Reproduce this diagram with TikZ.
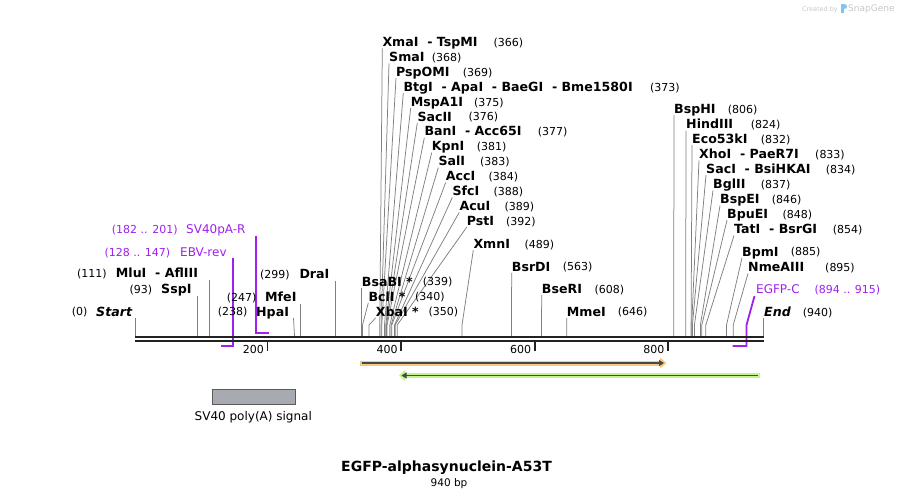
\documentclass[tikz,border=0pt]{standalone}
\usepackage{fontspec}
\setmainfont{DejaVu Sans}
\usetikzlibrary{arrows.meta}
\definecolor{sitegray}{RGB}{128,128,128}
\definecolor{prim}{RGB}{160,32,240}
\definecolor{bb}{RGB}{34,34,34}
\definecolor{orangef}{RGB}{249,200,122}
\definecolor{greenf}{RGB}{196,242,143}
\definecolor{darkl}{RGB}{72,72,72}
\definecolor{boxf}{RGB}{167,171,177}
\definecolor{boxd}{RGB}{90,90,90}
\definecolor{wm}{RGB}{200,200,200}
\definecolor{wmblue}{RGB}{130,195,240}
\begin{document}
\begin{tikzpicture}[x=1pt,y=-1pt,
  nm/.style={anchor=base west, inner sep=0, font=\fontsize{12.6}{14}\selectfont\bfseries},
  nmi/.style={anchor=base west, inner sep=0, font=\fontsize{12.6}{14}\selectfont\bfseries\itshape},
  nb/.style={anchor=base west, inner sep=0, font=\fontsize{11}{13}\selectfont},
  pn/.style={anchor=base west, inner sep=0, text=prim, font=\fontsize{12}{14}\selectfont},
  pb/.style={anchor=base west, inner sep=0, text=prim, font=\fontsize{11}{13}\selectfont},
  siteline/.style={draw=sitegray, line width=0.75pt},
  primline/.style={draw=prim, line width=1.8pt},
  backbone/.style={draw=bb, line width=2.4pt},
  tickmark/.style={draw=bb, line width=1.8pt},
  ticklab/.style={anchor=base east, inner sep=0, font=\fontsize{11}{13}\selectfont},
  featline/.style={draw=darkl, line width=1.6pt, -{Triangle[length=5pt,width=6pt]}},
]
\useasboundingbox (0,0) rectangle (899,499);
\fill[white] (0,0) rectangle (899,499);

% watermark
\node[anchor=base east, inner sep=0, text=wm, font=\fontsize{6.5}{8}\selectfont] (wm1) at (838,11) {Created by};
\fill[wmblue] (841,3.5) rectangle (844,13);
\fill[wmblue] (844,3.5) .. controls (848,3.5) and (848,9) .. (844,9) -- cycle;
\node[anchor=base west, inner sep=0, text=wm, font=\fontsize{9}{10}\selectfont] (wm2) at (848,11.5) {SnapGene};

% primers (drawn below the backbone)
\node[pn] (nEBV) at (180,256.5) {EBV-rev};
\node[pb] (cEBV) at (104.3,256.5) {(128 .. 147)};
\coordinate (tEBV) at (233,258);
\coordinate (mEBV) at (233,345.7);
\coordinate (eEBV) at (220.5,345.7);
\draw[primline] (tEBV) -- (mEBV) -- (eEBV);

\node[pn] (nSV) at (186,233.2) {SV40pA-R};
\node[pb] (cSV) at (111.7,233.2) {(182 .. 201)};
\coordinate (tSV) at (256,236);
\coordinate (mSV) at (256,332.7);
\coordinate (eSV) at (269.3,332.7);
\draw[primline] (tSV) -- (mSV) -- (eSV);

\node[pn] (nEG) at (756,293.2) {EGFP-C};
\node[pb] (cEG) at (814.3,293.2) {(894 .. 915)};
\coordinate (tEG) at (754.5,296);
\coordinate (kEG) at (746.5,325);
\coordinate (mEG) at (746.5,346);
\coordinate (eEG) at (732.5,346);
\draw[primline] (tEG) -- (kEG) -- (mEG) -- (eEG);

% right-side labelled sites
\foreach \ii/\nx/\ny/\numx/\sx/\nm/\nn in {
 a/382.3/42.2/493.3/379.8/{XmaI\ \ - TspMI}/366,
 b/389/57.1/431.7/381.1/{SmaI}/368,
 c/396/72/462.7/381.8/{PspOMI}/369,
 d/403.3/86.9/650/384.5/{BtgI\ \ - ApaI\ \ - BaeGI\ \ - Bme1580I}/373,
 e/410.7/101.8/474/385.8/{MspA1I}/375,
 f/417.3/116.7/468.3/386.5/{SacII}/376,
 g/424.3/131.6/537.7/387.1/{BanI\ \ - Acc65I}/377,
 h/431.7/146.5/476.7/389.8/{KpnI}/381,
 i/438.3/161.4/480/391.1/{SalI}/383,
 j/445.7/176.3/488.3/391.8/{AccI}/384,
 k/452.3/191.2/493.3/394.5/{SfcI}/388,
 l/459.3/206.1/504.3/395.2/{AcuI}/389,
 m/466.7/221/506/397.2/{PstI}/392,
 n/473.3/244/524.3/462/{XmnI}/489,
 o/361.7/281.7/422.7/361.7/{BsaBI *}/339,
 p/368.3/296.7/415/362.5/{BclI *}/340,
 q/375.7/311.7/428.3/369/{XbaI *}/350,
 r/511.7/266.7/562.7/511.4/{BsrDI}/563,
 s/541.7/289/594.3/541.5/{BseRI}/608,
 t/566.7/311.7/617.7/566.8/{MmeI}/646,
 u/674/109/727.7/673.7/{BspHI}/806,
 v/686/124.3/750.7/685.7/{HindIII}/824,
 w/692/139/760.7/691.1/{Eco53kI}/832,
 x/699/154.3/815/691.7/{XhoI\ \ - PaeR7I}/833,
 y/706/169/825.7/692.4/{SacI\ \ - BsiHKAI}/834,
 z/713/184.3/760.7/694.4/{BglII}/837,
 aa/720/199.3/771.7/700.4/{BspEI}/846,
 ab/727/214/782.3/701.8/{BpuEI}/848,
 ac/734/229.3/832.7/705.8/{TatI\ \ - BsrGI}/854,
 ad/742/251.7/790.7/726.5/{BpmI}/885,
 ae/748/267.3/825/733.2/{NmeAIII}/895}
{
 \node[nm] (n\ii) at (\nx,{\ny+4.3}) {\nm};
 \node[nb] (c\ii) at (\numx,{\ny+4.2}) {(\nn)};
 \coordinate (t\ii) at (\nx,{\ny+6.2});
 \coordinate (s\ii) at (\sx,325);
 \coordinate (b\ii) at (\sx,336);
 \draw[siteline] (t\ii) -- (s\ii) -- (b\ii);
}

% End
\node[nmi] (nEnd) at (764,316.6) {End};
\node[nb] (cEnd) at (802.7,316.5) {(940)};
\coordinate (tEnd) at (763.2,318);
\coordinate (bEnd) at (763.2,336);
\draw[siteline] (tEnd) -- (bEnd);

% left-side labelled sites
\node[nmi] (nStart) at (96,316) {Start};
\node[nb] (cStart) at (71.7,315.9) {(0)};
\coordinate (tStart) at (135.5,318);
\coordinate (bStart) at (135.5,336);
\draw[siteline] (tStart) -- (bStart);

\foreach \ii/\numx/\nx/\ny/\tx/\sx/\nm/\nn in {
 SspI/129.3/161/289.3/197.4/197.4/{SspI}/93,
 MluI/77/115.7/273.3/209.4/209.4/{MluI\ \ - AflIII}/111,
 HpaI/217.7/256/311.7/293.5/294.5/{HpaI}/238,
 MfeI/226.7/265/297.3/300.3/300.3/{MfeI}/247,
 DraI/260/299.3/274/335/335/{DraI}/299}
{
 \node[nm] (n\ii) at (\nx,{\ny+4.3}) {\nm};
 \node[nb] (c\ii) at (\numx,{\ny+4.2}) {(\nn)};
 \coordinate (t\ii) at (\tx,{\ny+6.5});
 \coordinate (b\ii) at (\sx,336);
 \draw[siteline] (t\ii) -- (b\ii);
}

% backbone
\coordinate (bbL1) at (135,337);
\coordinate (bbR1) at (763.5,337);
\coordinate (bbL2) at (135,341.2);
\coordinate (bbR2) at (763.5,341.2);
\draw[backbone] (bbL1) -- (bbR1);
\draw[backbone] (bbL2) -- (bbR2);

% ticks
\foreach \tx/\tl in {267.5/200, 401.3/400, 534.8/600, 668/800}{
 \coordinate (ta\tl) at (\tx,342);
 \coordinate (tb\tl) at (\tx,351);
 \draw[tickmark] (ta\tl) -- (tb\tl);
 \node[ticklab] (tl\tl) at ({\tx-3.5},353) {\tl};
}

% orange feature (forward)
\fill[orangef] (360,360.5) rectangle (661,365.5);
\fill[orangef] (660,357.5) -- (666.5,363) -- (660,368.5) -- cycle;
\coordinate (oS) at (361.5,363);
\coordinate (oE) at (664,363);
\draw[featline] (oS) -- (oE);

% green feature (reverse)
\fill[greenf] (404,373.3) rectangle (759.5,377.7);
\fill[greenf] (405,370) -- (399,375.5) -- (405,381) -- cycle;
\coordinate (gS) at (757.5,375.5);
\coordinate (gE) at (401.5,375.5);
\draw[featline] (gS) -- (gE);

% SV40 poly(A) signal
\node[draw=boxd, fill=boxf, line width=0.6pt, minimum width=83pt, minimum height=15pt, inner sep=0] (polyA) at (253.5,396.5) {};
\node[anchor=base, inner sep=0, font=\fontsize{12}{14}\selectfont] (polyAl) at (253.3,420.7) {SV40 poly(A) signal};

% title
\node[anchor=base, inner sep=0, font=\fontsize{14}{16}\selectfont\bfseries] (title) at (446.5,471.7) {EGFP-alphasynuclein-A53T};
\node[anchor=base, inner sep=0, font=\fontsize{10.5}{12}\selectfont] (size) at (449,486) {940 bp};
\end{tikzpicture}
\end{document}
